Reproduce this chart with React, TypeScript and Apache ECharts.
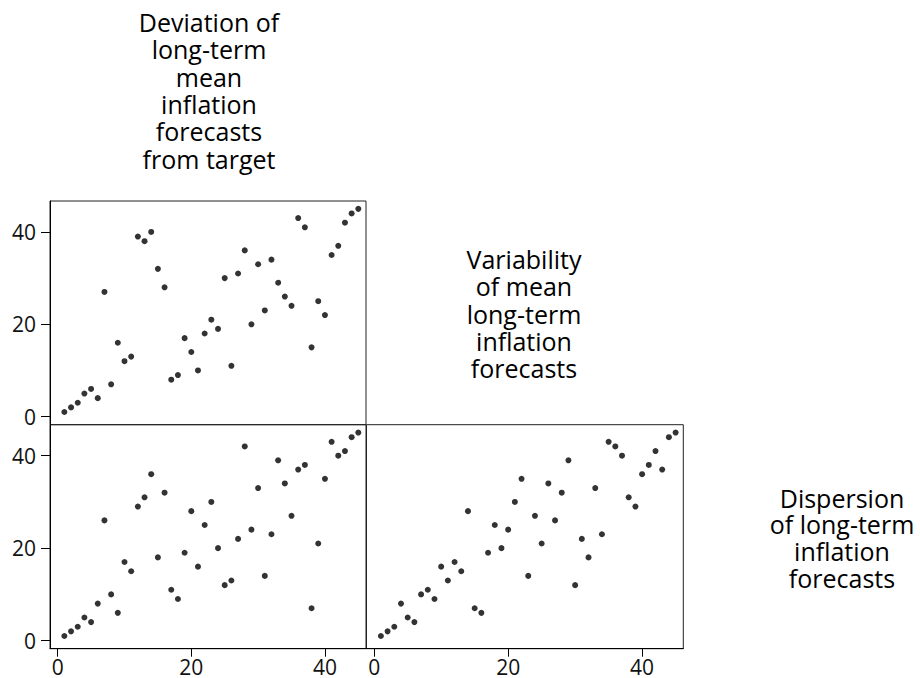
import React, { useEffect, useRef } from "react";
import * as echarts from "echarts";

// Ranks of the three variables (one entry per observation)
const deviation = [1,2,3,4,5,6,7,8,9,10,11,12,13,14,15,16,17,18,19,20,21,22,23,24,25,26,27,28,29,30,31,32,33,34,35,36,37,38,39,40,41,42,43,44,45];
const variability = [1,2,3,5,6,4,27,7,16,12,13,39,38,40,32,28,8,9,17,14,10,18,21,19,30,11,31,36,20,33,23,34,29,26,24,43,41,15,25,22,35,37,42,44,45];
const dispersion = [1,2,3,5,4,8,26,10,6,17,15,29,31,36,18,32,11,9,19,28,16,25,30,20,12,13,22,42,24,33,14,23,39,34,27,37,38,7,21,35,43,40,41,44,45];

const tickValues = [0, 20, 40];
const labelDeviation = ["Deviation of", "long-term", "mean", "inflation", "forecasts", "from target"];
const labelVariability = ["Variability", "of mean", "long-term", "inflation", "forecasts"];
const labelDispersion = ["Dispersion", "of long-term", "inflation", "forecasts"];

const FONT = "'Open Sans', 'Noto Sans', sans-serif";

export default function App() {
  const ref = useRef<HTMLDivElement>(null);
  useEffect(() => {
    if (!ref.current) return;
    const chart = echarts.init(ref.current, undefined, { renderer: "svg" });
    const X_MIN = -1.15, X_MAX = 46.15, Y_MIN = -1.75, Y_MAX = 46.7;
    const gridStyle = { show: true, borderColor: "#222", borderWidth: 1, backgroundColor: "transparent" };
    const grids = [
      { left: 50, top: 201, width: 316, height: 223.7, ...gridStyle },
      { left: 50, top: 424.7, width: 316, height: 224, ...gridStyle },
      { left: 366.5, top: 424.7, width: 316.8, height: 224, ...gridStyle },
    ];
    const axisLabelStyle = { color: "#111", fontSize: 21, lineHeight: 20, fontFamily: FONT };
    const mkX = (gi: number, show: boolean) => ({
      type: "value", gridIndex: gi, min: X_MIN, max: X_MAX,
      splitLine: { show: false },
      axisLine: { show: show, onZero: false, lineStyle: { color: "#000", width: 1 } },
      axisTick: { show: show, length: 8, customValues: tickValues, lineStyle: { color: "#000" } },
      axisLabel: { show: show, margin: 8, customValues: tickValues, ...axisLabelStyle },
    });
    const mkY = (gi: number, show: boolean) => ({
      type: "value", gridIndex: gi, min: Y_MIN, max: Y_MAX,
      splitLine: { show: false },
      axisLine: { show: show, onZero: false, lineStyle: { color: "#000", width: 1 } },
      axisTick: { show: show, length: 9, customValues: tickValues, lineStyle: { color: "#000" } },
      axisLabel: { show: show, margin: 14, customValues: tickValues, ...axisLabelStyle },
    });
    const pairs = (xs: number[], ys: number[]) => xs.map((x, i) => [x, ys[i]]);
    const dot = { type: "scatter", symbol: "circle", symbolSize: 6, itemStyle: { color: "#000" } };
    const block = (lines: string[], cx: number, firstY: number, step: number) =>
      lines.map((t, i) => ({
        type: "text",
        x: cx,
        y: firstY + i * step,
        style: { text: t, align: "center", verticalAlign: "middle", fontSize: 25, lineHeight: 25, fontFamily: FONT, fill: "#000" },
      }));
    chart.setOption({
      animation: false,
      grid: grids,
      xAxis: [mkX(0, false), mkX(1, true), mkX(2, true)],
      yAxis: [mkY(0, true), mkY(1, true), mkY(2, false)],
      series: [
        { ...dot, xAxisIndex: 0, yAxisIndex: 0, data: pairs(deviation, variability) },
        { ...dot, xAxisIndex: 1, yAxisIndex: 1, data: pairs(deviation, dispersion) },
        { ...dot, xAxisIndex: 2, yAxisIndex: 2, data: pairs(variability, dispersion) },
      ],
      graphic: [
        ...block(labelDeviation, 209, 22, 27.3),
        ...block(labelVariability, 524, 259, 27.3),
        ...block(labelDispersion, 842, 497.5, 26.8),
      ],
    });
    return () => chart.dispose();
  }, []);
  return (
    <div
      ref={ref}
      style={{ position: "fixed", left: 0, top: 0, width: 920, height: 678, background: "#fff" }}
    />
  );
}
